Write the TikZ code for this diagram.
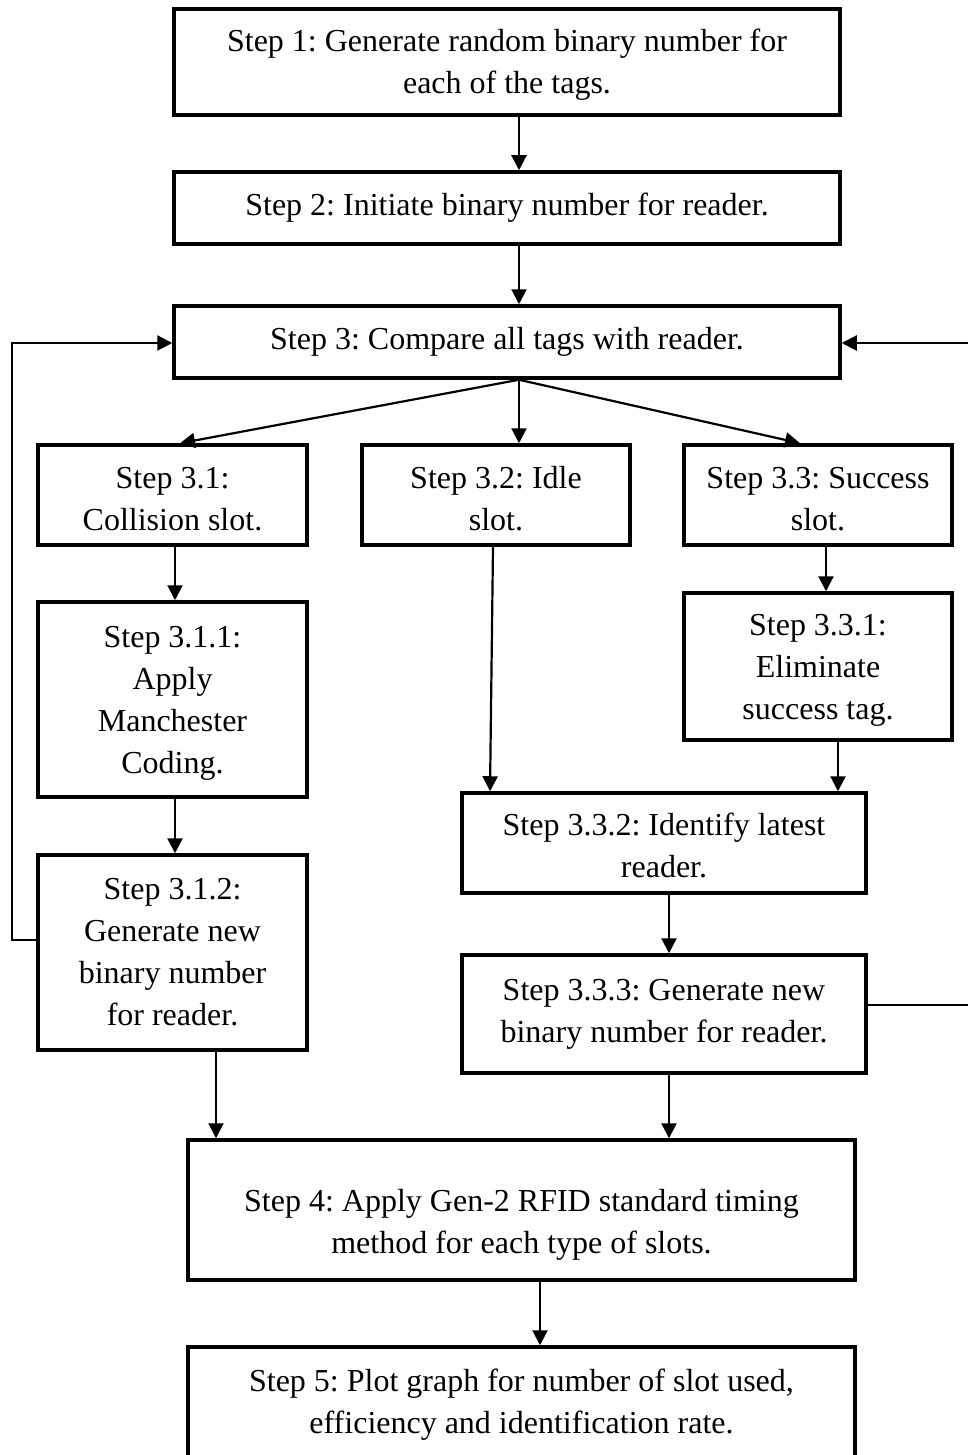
\documentclass[tikz,border=0pt]{standalone}
\usepackage{fontspec}
\setmainfont{Liberation Serif}
\usetikzlibrary{arrows.meta}
\newcommand{\dn}[1]{\rule{0pt}{#1}}
\begin{document}
\frenchspacing
\begin{tikzpicture}[x=1pt,y=-1pt,
  box/.style={draw, line width=3.5pt, rectangle, inner sep=0pt, align=center,
    font=\fontsize{32}{42}\selectfont\frenchspacing},
  arr/.style={line width=2.2pt, -{Triangle[length=15pt,width=15pt]}},
  ln/.style={line width=2.2pt}]
\useasboundingbox (0,0) rectangle (968,1455);
\node[box, minimum width=666pt, minimum height=106pt] (b1) at (507,62) {\dn{27pt}Step 1: Generate random binary number for\\each of the tags.};
\node[box, minimum width=666pt, minimum height=72pt] (b2) at (507,208) {Step 2: Initiate binary number for reader.};
\node[box, minimum width=666pt, minimum height=72pt] (b3) at (507,342) {Step 3: Compare all tags with reader.};
\node[box, minimum width=269pt, minimum height=100pt] (b31) at (172.5,495) {\dn{29pt}Step 3.1:\\Collision slot.};
\node[box, minimum width=268pt, minimum height=100pt] (b32) at (496,495) {\dn{29pt}Step 3.2: Idle\\slot.};
\node[box, minimum width=268pt, minimum height=100pt] (b33) at (818,495) {\dn{29pt}Step 3.3: Success\\slot.};
\node[box, minimum width=269pt, minimum height=195pt] (b311) at (172.5,699.5) {\dn{28pt}Step 3.1.1:\\Apply\\Manchester\\Coding.};
\node[box, minimum width=269pt, minimum height=195pt] (b312) at (172.5,952.5) {Step 3.1.2:\\Generate new\\binary number\\for reader.};
\node[box, minimum width=268pt, minimum height=147pt] (b331) at (818,666.5) {\dn{28pt}Step 3.3.1:\\Eliminate\\success tag.};
\node[box, minimum width=404pt, minimum height=100pt] (b332) at (664,843) {\dn{28pt}Step 3.3.2: Identify latest\\reader.};
\node[box, minimum width=404pt, minimum height=118pt] (b333) at (664,1014) {Step 3.3.3: Generate new\\binary number for reader.};
\node[box, minimum width=667pt, minimum height=140pt] (b4) at (521.5,1210) {\dn{52pt}Step 4: Apply Gen-2 RFID standard timing\\method for each type of slots.};
\node[box, minimum width=667pt, minimum height=112pt] (b5) at (521.5,1403) {\dn{26pt}Step 5: Plot graph for number of slot used,\\efficiency and identification rate.};
% helper x-positions
\coordinate (xa) at (519,0);
\coordinate (xl) at (180,0);
\coordinate (xr) at (800,0);
\coordinate (x31) at (175,0);
\coordinate (x33) at (826,0);
\coordinate (x331) at (838,0);
\coordinate (x32a) at (493,0);
\coordinate (x32b) at (490,0);
\coordinate (x332) at (669,0);
\coordinate (x312) at (216,0);
\coordinate (x4) at (540,0);
\coordinate (ly) at (0,343);
\coordinate (yl) at (0,940);
\coordinate (yr) at (0,1005);
\coordinate (lx) at (12,0);
\coordinate (rx) at (975,0);
% connectors
\draw[arr] (b1.south -| xa) -- (b2.north -| xa);
\draw[arr] (b2.south -| xa) -- (b3.north -| xa);
\draw[arr] (b3.south -| xa) -- (b31.north -| xl);
\draw[arr] (b3.south -| xa) -- (b32.north -| xa);
\draw[arr] (b3.south -| xa) -- (b33.north -| xr);
\draw[arr] (b31.south -| x31) -- (b311.north -| x31);
\draw[arr] (b311.south -| x31) -- (b312.north -| x31);
\draw[arr] (b33.south -| x33) -- (b331.north -| x33);
\draw[arr] (b331.south -| x331) -- (b332.north -| x331);
\draw[arr] (b32.south -| x32a) -- (b332.north -| x32b);
\draw[arr] (b332.south -| x332) -- (b333.north -| x332);
\draw[arr] (b312.south -| x312) -- (b4.north -| x312);
\draw[arr] (b333.south -| x332) -- (b4.north -| x332);
\draw[arr] (b4.south -| x4) -- (b5.north -| x4);
\draw[arr] (b312.west |- yl) -- (lx |- yl) -- (lx |- ly) -- (b3.west |- ly);
\draw[arr] (b333.east |- yr) -- (rx |- yr) -- (rx |- ly) -- (b3.east |- ly);
\end{tikzpicture}
\end{document}
